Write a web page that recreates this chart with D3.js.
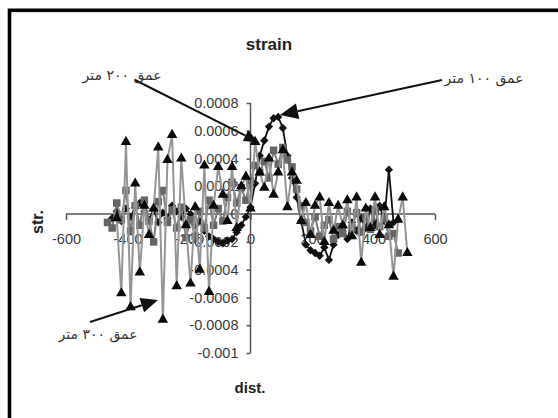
<!DOCTYPE html>
<html>
<head>
<meta charset="utf-8">
<script src="https://cdn.jsdelivr.net/npm/d3@7"></script>
<style>
  body { margin: 0; background: #fff; }
  svg { display: block; }
</style>
</head>
<body>
<script>
// distance along profile (m), shared by the three depth series
var dist = [-465, -450, -435, -420, -405, -390, -375, -360, -345, -330,
  -315, -300, -285, -270, -255, -240, -225, -210, -195, -180,
  -165, -150, -135, -120, -105, -90, -75, -60, -45, -30,
  -15, 0, 15, 30, 45, 60, 75, 90, 105, 120,
  135, 150, 165, 180, 195, 210, 225, 240, 255, 270,
  285, 300, 315, 330, 345, 360, 375, 390, 405, 420,
  435, 450, 465, 480, 495, 510];

// depth 100 m (diamonds)
var str100 = [null, -0.3e-4, 0.2e-4, -0.5e-4, 0.4e-4, -0.2e-4, 0.5e-4, 0.8e-4, 0.2e-4, -0.4e-4,
  0.3e-4, -0.6e-4, 0.1e-4, -0.3e-4, 0.6e-4, 0.2e-4, -0.2e-4, 0.4e-4, 0.0, -0.8e-4,
  -0.5e-4, -1.2e-4, -1.6e-4, -1.8e-4, -2.0e-4, -2.1e-4, -1.9e-4, -1.8e-4, -1.3e-4, -0.8e-4,
  -0.2e-4, 0.5e-4, 2.2e-4, 4.2e-4, 5.3e-4, 6.3e-4, 6.9e-4, 7.0e-4, 6.2e-4, 4.2e-4,
  2.6e-4, 1.2e-4, -0.5e-4, -2.2e-4, -2.6e-4, -2.8e-4, -3.0e-4, -2.4e-4, -3.3e-4, -2.2e-4,
  -1.5e-4, -1.0e-4, -1.8e-4, -0.6e-4, -1.2e-4, -0.3e-4, -1.0e-4, 0.4e-4, -0.8e-4, 0.6e-4,
  -0.5e-4, 3.2e-4, -0.6e-4, null, null, null];

// depth 200 m (squares)
var str200 = [-0.6e-4, -1.0e-4, 0.8e-4, -0.4e-4, 1.7e-4, -1.2e-4, 0.6e-4, -0.8e-4, 1.0e-4, -0.5e-4,
  -2.0e-4, 0.9e-4, 1.7e-4, -0.6e-4, 0.3e-4, -1.0e-4, 0.5e-4, -1.7e-4, -0.4e-4, -1.6e-4,
  0.2e-4, -1.0e-4, 1.0e-4, -0.8e-4, 0.4e-4, -0.5e-4, 1.2e-4, 2.3e-4, 0.8e-4, 1.9e-4,
  1.0e-4, 2.4e-4, 3.5e-4, 3.0e-4, 3.8e-4, 2.6e-4, 4.6e-4, 3.6e-4, 4.8e-4, 3.9e-4,
  3.4e-4, 1.8e-4, 0.6e-4, -0.6e-4, -1.2e-4, -0.2e-4, -1.6e-4, -0.8e-4, -0.4e-4, -1.8e-4,
  -0.9e-4, -1.4e-4, 0.2e-4, -1.0e-4, 0.1e-4, -1.3e-4, -0.2e-4, -1.1e-4, 0.3e-4, -0.9e-4,
  -0.3e-4, -1.6e-4, -1.4e-4, -2.8e-4, null, null];

// depth 300 m (triangles)
var str300 = [null, null, -0.3e-4, -5.7e-4, 5.2e-4, -6.7e-4, 2.2e-4, -4.2e-4, 0.6e-4, -1.5e-4,
  0.4e-4, 4.8e-4, -7.6e-4, 3.9e-4, 5.7e-4, -5.2e-4, 4.0e-4, -0.8e-4, -5.0e-4, 0.5e-4,
  -4.0e-4, 3.5e-4, -5.6e-4, 0.6e-4, 3.4e-4, 1.4e-4, -0.5e-4, 3.4e-4, -1.0e-4, 2.0e-4,
  2.7e-4, 0.4e-4, 5.2e-4, 3.0e-4, 1.9e-4, 4.0e-4, 1.4e-4, 3.0e-4, 4.6e-4, 0.5e-4,
  3.0e-4, 2.4e-4, -0.5e-4, 0.8e-4, -1.5e-4, 0.6e-4, 1.2e-4, -2.0e-4, 0.8e-4, -1.2e-4,
  0.6e-4, -0.8e-4, 1.0e-4, -1.6e-4, 1.2e-4, -3.5e-4, 0.4e-4, -1.0e-4, 1.2e-4, -1.5e-4,
  0.5e-4, -0.8e-4, -4.5e-4, -0.4e-4, 1.2e-4, -2.8e-4];

var xTicks = [-600, -400, -200, 0, 200, 400, 600];
var xTickLabels = ["-600", "-400", "-200", "0", "200", "400", "600"];
var yTicks = [0.0008, 0.0006, 0.0004, 0.0002, 0, -0.0002, -0.0004, -0.0006, -0.0008, -0.001];
var yTickLabels = ["0.0008", "0.0006", "0.0004", "0.0002", "0", "-0.0002", "-0.0004", "-0.0006", "-0.0008", "-0.001"];

var titleText = "strain";
var xTitle = "dist.";
var yTitle = "str.";
var label100 = "عمق ١٠٠ متر";
var label200 = "عمق ٢٠٠ متر";
var label300 = "عمق ٣٠٠ متر";

var chart_width = 558;
var chart_height = 418;
var axisColor = "#555";
var textColor = "#3a3a3a";

var svg = d3.select("body")
  .append("svg")
  .attr("width", chart_width)
  .attr("height", chart_height);

// outer frame (right and bottom edges fall outside the picture)
svg.append("rect")
  .attr("x", 9.5).attr("y", 10.3)
  .attr("width", 580).attr("height", 440)
  .attr("fill", "#fff")
  .attr("stroke", "#000")
  .attr("stroke-width", 3.6);

// Scales
var x_scale = d3.scaleLinear().domain([-600, 600]).range([66, 435]);
var y_scale = d3.scaleLinear().domain([-0.001, 0.0008]).range([353, 103]);
var x0 = x_scale(0), y0 = y_scale(0);

// title + axis titles
svg.append("text")
  .attr("x", 269).attr("y", 50)
  .attr("text-anchor", "middle")
  .attr("font-family", "Liberation Sans, Arial, sans-serif")
  .attr("font-weight", "bold").attr("font-size", 17)
  .attr("fill", "#222")
  .text(titleText);

svg.append("text")
  .attr("x", 250).attr("y", 393)
  .attr("text-anchor", "middle")
  .attr("font-family", "Liberation Sans, Arial, sans-serif")
  .attr("font-weight", "bold").attr("font-size", 15)
  .attr("fill", "#222")
  .text(xTitle);

svg.append("text")
  .attr("transform", "translate(43,222) rotate(-90)")
  .attr("text-anchor", "middle")
  .attr("font-family", "Liberation Sans, Arial, sans-serif")
  .attr("font-weight", "bold").attr("font-size", 16)
  .attr("fill", "#222")
  .text(yTitle);

// Axes (crossing at zero)
var x_axis = d3.axisBottom(x_scale)
  .tickValues(xTicks)
  .tickSize(6)
  .tickPadding(14)
  .tickFormat(function(d, i){ return xTickLabels[i]; });

var y_axis = d3.axisLeft(y_scale)
  .tickValues(yTicks)
  .tickSize(4)
  .tickPadding(8)
  .tickFormat(function(d, i){ return yTickLabels[i]; });

var gx = svg.append("g")
  .attr("transform", "translate(0," + y0 + ")")
  .call(x_axis);
var gy = svg.append("g")
  .attr("transform", "translate(" + x0 + ",0)")
  .call(y_axis);

[gx, gy].forEach(function(g){
  g.select(".domain").attr("stroke", axisColor).attr("stroke-width", 1.5);
  g.selectAll(".tick line").attr("stroke", axisColor).attr("stroke-width", 1.5);
  g.selectAll(".tick text")
    .attr("fill", textColor)
    .attr("font-family", "Liberation Sans, Arial, sans-serif")
    .attr("font-size", 14.5);
});
// plain axis lines without d3's outer end caps
gx.select(".domain").attr("d", "M" + x_scale(-600) + ",0H" + x_scale(600));
gy.select(".domain").attr("d", "M0," + y_scale(0.0008) + "V" + y_scale(-0.001));

// Series
var series = [
  { values: str100, line: "#111", lineWidth: 1.8, fill: "#111", symbol: d3.symbolDiamond2, size: 44 },
  { values: str200, line: "#7c7c7c", lineWidth: 2, fill: "#656565", symbol: d3.symbolSquare, size: 56 },
  { values: str300, line: "#959595", lineWidth: 2, fill: "#0a0a0a", symbol: d3.symbolTriangle, size: 48 }
];

var line = d3.line()
  .defined(function(d){ return d.v !== null; })
  .x(function(d){ return x_scale(d.x); })
  .y(function(d){ return y_scale(d.v); });

series.forEach(function(s){
  var pts = dist.map(function(x, i){ return { x: x, v: s.values[i] === undefined ? null : s.values[i] }; });
  var g = svg.append("g");
  g.append("path")
    .datum(pts)
    .attr("fill", "none")
    .attr("stroke", s.line)
    .attr("stroke-width", s.lineWidth)
    .attr("d", line);
  g.selectAll("path.mark")
    .data(pts.filter(function(d){ return d.v !== null; }))
    .enter()
    .append("path")
    .attr("class", "mark")
    .attr("transform", function(d){ return "translate(" + x_scale(d.x) + "," + y_scale(d.v) + ")"; })
    .attr("d", d3.symbol().type(s.symbol).size(s.size))
    .attr("fill", s.fill);
});

// Annotation arrows
function arrow(x1, y1, x2, y2, headLen, headHalf){
  var dx = x2 - x1, dy = y2 - y1;
  var len = Math.sqrt(dx*dx + dy*dy);
  var ux = dx/len, uy = dy/len;
  var bx = x2 - ux*headLen, by = y2 - uy*headLen;
  svg.append("line")
    .attr("x1", x1).attr("y1", y1).attr("x2", bx).attr("y2", by)
    .attr("stroke", "#111").attr("stroke-width", 2);
  svg.append("path")
    .attr("d", "M" + x2 + "," + y2 +
      "L" + (bx - uy*headHalf) + "," + (by + ux*headHalf) +
      "L" + (bx + uy*headHalf) + "," + (by - ux*headHalf) + "Z")
    .attr("fill", "#111");
}
arrow(442, 80, 280, 115, 18, 8);
arrow(135, 80, 258, 142, 14, 6);
arrow(90, 322, 158, 300, 17, 7.5);

function arabicLabel(x, y, txt){
  svg.append("text")
    .attr("x", x).attr("y", y)
    .attr("text-anchor", "middle")
    .attr("direction", "rtl")
    .attr("font-family", "DejaVu Sans, sans-serif")
    .attr("font-size", 14)
    .attr("fill", "#333")
    .text(txt);
}
arabicLabel(484, 83, label100);
arabicLabel(122, 80, label200);
arabicLabel(98, 339, label300);
</script>
</body>
</html>
